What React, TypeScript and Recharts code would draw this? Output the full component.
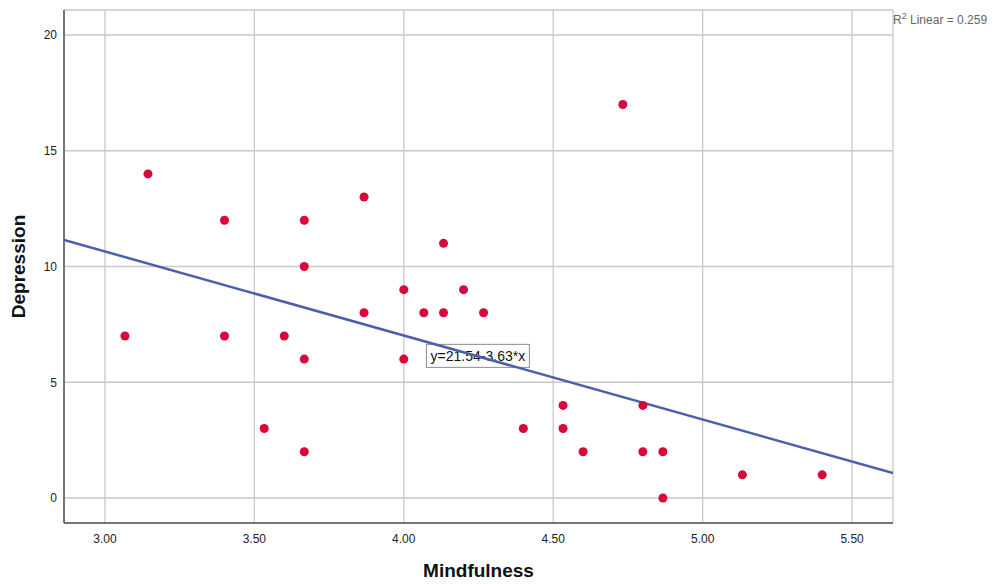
import React from 'react';
import {
  ScatterChart,
  Scatter,
  XAxis,
  YAxis,
  CartesianGrid,
  Label
} from 'recharts';

// Mindfulness (x) vs Depression (y)
const mindfulness = [
  3.067, 3.144, 3.4, 3.4, 3.533, 3.6, 3.667, 3.667, 3.667, 3.667,
  3.867, 3.867, 4.0, 4.0, 4.067, 4.133, 4.133, 4.2, 4.267, 4.4,
  4.533, 4.533, 4.6, 4.733, 4.8, 4.8, 4.867, 4.867, 5.133, 5.4
];
const depression = [
  7, 14, 12, 7, 3, 7, 12, 10, 6, 2,
  13, 8, 9, 6, 8, 11, 8, 9, 8, 3,
  4, 3, 2, 17, 4, 2, 2, 0, 1, 1
];

const xTicks = [3.0, 3.5, 4.0, 4.5, 5.0, 5.5];
const yTicks = [0, 5, 10, 15, 20];
const xDomain = [2.863, 5.637];
const yDomain = [-1.08, 21.08];

// fit line
const intercept = 21.54;
const slope = -3.63;
const rSquared = 0.259;
const eqLabelAt = [{ x: 4.248, y: 6.14 }];

const points = mindfulness.map((x, i) => ({ x, y: depression[i] }));
const fit = (x: number) => intercept + slope * x;
const fitLine = xDomain.map(x => ({ x, y: fit(x) }));

const font = '"Liberation Sans", Arial, sans-serif';

// equation box, drawn before the line so the line passes over it
const EquationBox = (props: any) => {
  const { cx, cy } = props;
  const w = 103;
  const h = 23;
  return (
    <g>
      <rect x={cx - w / 2} y={cy - h / 2} width={w} height={h} fill="#fff" stroke="#8c8c8c" strokeWidth={1} />
      <text x={cx} y={cy + 5} textAnchor="middle" fontSize={14} fontFamily={font} fill="#111">
        {`y=${intercept}${slope}*x`}
      </text>
    </g>
  );
};

export default function App() {
  return (
    <div style={{ position: 'absolute', left: 0, top: 0, width: 997, height: 584, background: '#fff' }}>
      <ScatterChart
        width={997}
        height={584}
        margin={{ top: 10, right: 104, bottom: 21, left: 0 }}
        style={{ fontFamily: font }}
      >
        <CartesianGrid stroke="#c9c9c9" strokeWidth={1.3} />
        <XAxis
          type="number"
          dataKey="x"
          domain={xDomain}
          ticks={xTicks}
          allowDataOverflow
          height={40}
          tickLine={false}
          tickMargin={5}
          tickFormatter={(v: number) => v.toFixed(2)}
          tick={{ fontSize: 12, fill: '#222', fontFamily: font }}
          axisLine={{ stroke: '#555', strokeWidth: 1.5 }}
        >
          <Label
            value="Mindfulness"
            position="insideBottom"
            offset={-14}
            style={{ fontSize: 19, fontWeight: 'bold', fill: '#111', fontFamily: font }}
          />
        </XAxis>
        <YAxis
          type="number"
          dataKey="y"
          domain={yDomain}
          ticks={yTicks}
          allowDataOverflow
          width={64}
          tickLine={false}
          tickMargin={1}
          tick={{ fontSize: 12, fill: '#222', fontFamily: font }}
          axisLine={{ stroke: '#555', strokeWidth: 1.5 }}
        >
          <Label
            value="Depression"
            angle={-90}
            position="insideLeft"
            offset={18}
            style={{ textAnchor: 'middle', fontSize: 19, fontWeight: 'bold', fill: '#111', fontFamily: font }}
          />
        </YAxis>
        <Scatter data={eqLabelAt} shape={(p: any) => <EquationBox {...p} />} isAnimationActive={false} />
        <Scatter
          data={fitLine}
          line={{ stroke: '#4a5fae', strokeWidth: 2.5 }}
          shape={() => <g />}
          isAnimationActive={false}
        />
        <Scatter data={points} fill="#d8073c" shape="circle" isAnimationActive={false} />
      </ScatterChart>
      <div
        style={{
          position: 'absolute',
          left: 893,
          top: 11,
          fontFamily: font,
          fontSize: 12,
          color: '#666',
          whiteSpace: 'nowrap'
        }}
      >
        R<sup style={{ fontSize: 9 }}>2</sup> Linear = {rSquared}
      </div>
    </div>
  );
}
